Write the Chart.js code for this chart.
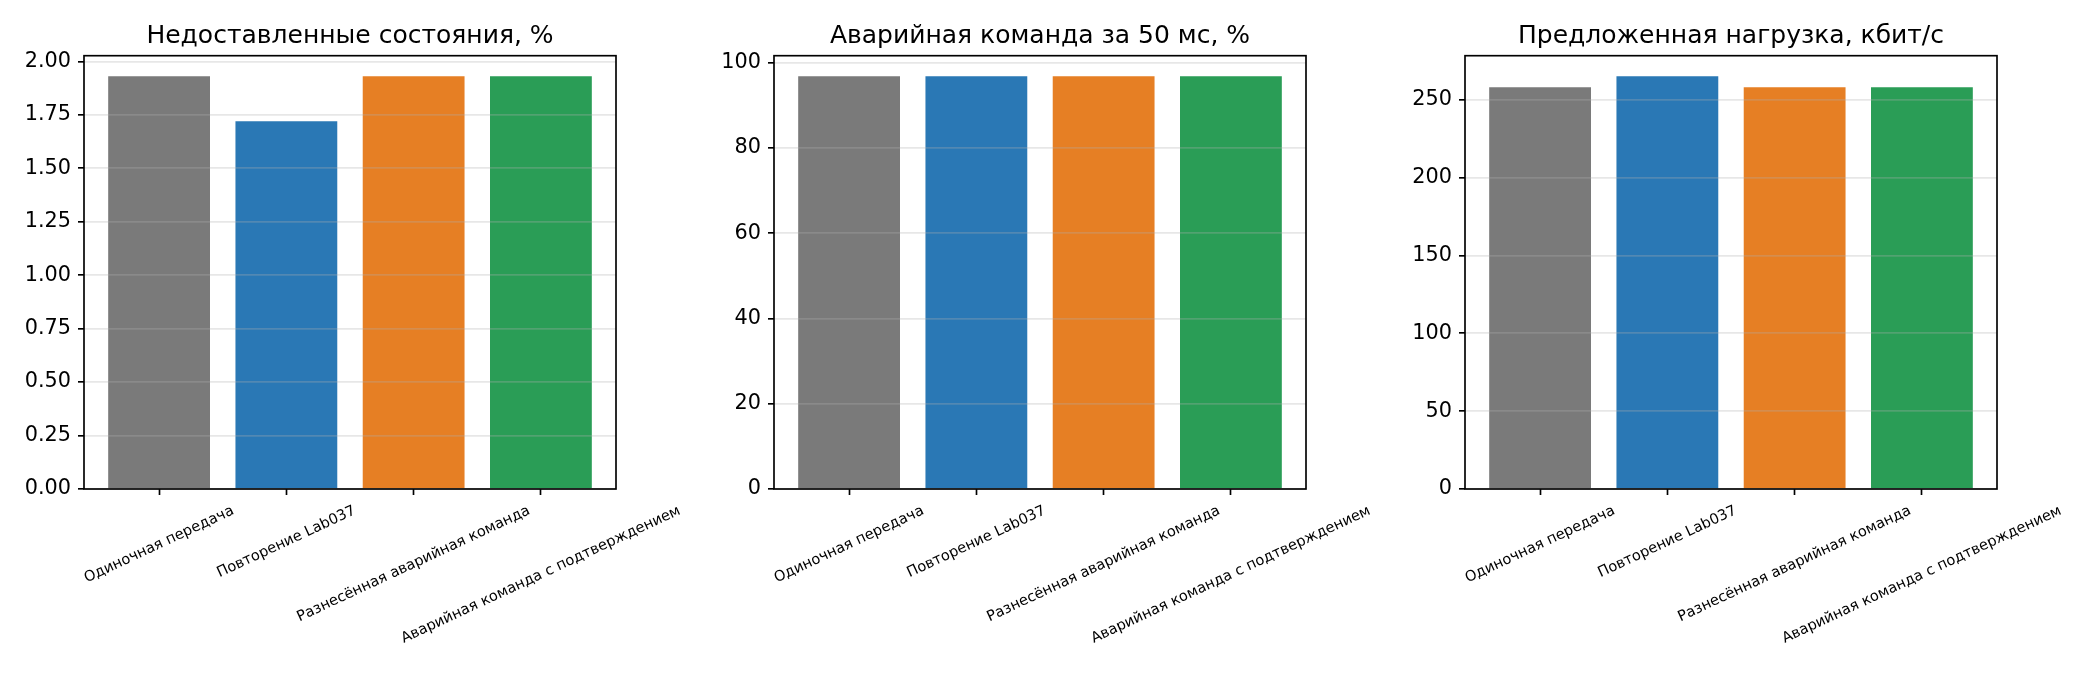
<!DOCTYPE html>
<html>
<head>
<meta charset="utf-8">
<script src="https://cdn.jsdelivr.net/npm/chart.js@4.4.1/dist/chart.umd.min.js"></script>
<style>
html,body{margin:0;padding:0;background:#fff;width:2100px;height:675px;overflow:hidden;}
.box{position:absolute;top:0;height:675px;}
</style>
</head>
<body>
<div class="box" id="b0"><canvas id="c0"></canvas></div>
<div class="box" id="b1"><canvas id="c1"></canvas></div>
<div class="box" id="b2"><canvas id="c2"></canvas></div>
<script>
// ---- data ----
const categories = ["Одиночная передача", "Повторение Lab037", "Разнесённая аварийная команда", "Аварийная команда с подтверждением"];
const barColors = ["#7a7a7a", "#2a78b5", "#e67f24", "#2a9d56"];
const chartTitles = ["Недоставленные состояния, %", "Аварийная команда за 50 мс, %", "Предложенная нагрузка, кбит/с"];

const undeliveredPct = [1.93, 1.72, 1.93, 1.93];
const emergency50msPct = [96.8, 96.8, 96.8, 96.8];
const offeredLoadKbps = [258, 265, 258, 258];

const yTicks1 = [0, 0.25, 0.5, 0.75, 1.0, 1.25, 1.5, 1.75, 2.0];
const yTickLabels1 = ["0.00", "0.25", "0.50", "0.75", "1.00", "1.25", "1.50", "1.75", "2.00"];
const yTicks2 = [0, 20, 40, 60, 80, 100];
const yTickLabels2 = ["0", "20", "40", "60", "80", "100"];
const yTicks3 = [0, 50, 100, 150, 200, 250];
const yTickLabels3 = ["0", "50", "100", "150", "200", "250"];

// ---- layout ----
const axLefts = [84, 774, 1465];
const axWidth = 532;
const yAxisW = 80;
const rightPad = 110;
const axTop = 55.7;
const axBottom = 489;
const xAxisH = 20;

const FONT = '"DejaVu Sans", "Liberation Sans", sans-serif';

const framePlugin = {
  id: 'frame',
  afterDraw(chart, args, opts) {
    const ctx = chart.ctx;
    const a = chart.chartArea;
    const xs = chart.scales.x;
    ctx.save();
    // spines
    ctx.strokeStyle = '#000';
    ctx.lineWidth = 1.67;
    ctx.strokeRect(a.left, a.top, a.right - a.left, a.bottom - a.top);
    // title
    ctx.fillStyle = '#000';
    ctx.font = '25px ' + FONT;
    ctx.textAlign = 'center';
    ctx.textBaseline = 'alphabetic';
    ctx.fillText(opts.title, (a.left + a.right) / 2, a.top - 12.5);
    // rotated x labels (centered under ticks)
    ctx.font = '14.6px ' + FONT;
    const th = 25 * Math.PI / 180;
    const h = 14.6 * 1.17;
    const top = a.bottom + 6 + 7.3;
    categories.forEach((lab, i) => {
      const px = xs.getPixelForValue(i);
      const w = ctx.measureText(lab).width;
      const H = w * Math.sin(th) + h * Math.cos(th);
      ctx.save();
      ctx.translate(px, top + H / 2);
      ctx.rotate(-th);
      ctx.textAlign = 'center';
      ctx.textBaseline = 'middle';
      ctx.fillText(lab, 0, 0);
      ctx.restore();
    });
    ctx.restore();
  }
};

function makeChart(idx, values, yTicks, yLabels) {
  const box = document.getElementById('b' + idx);
  box.style.left = (axLefts[idx] - yAxisW) + 'px';
  box.style.width = (yAxisW + axWidth + rightPad) + 'px';
  const ymax = Math.max(...values) * 1.05;
  new Chart(document.getElementById('c' + idx), {
    type: 'bar',
    data: {
      datasets: [{
        data: categories.map((c, i) => ({ x: i, y: values[i] })),
        backgroundColor: barColors,
        borderWidth: 0,
        barPercentage: 0.8,
        categoryPercentage: 1.0
      }]
    },
    options: {
      responsive: true,
      maintainAspectRatio: false,
      animation: false,
      layout: { padding: { top: axTop, right: rightPad, left: 0, bottom: 675 - axBottom - xAxisH } },
      plugins: {
        legend: { display: false },
        tooltip: { enabled: false },
        title: { display: false },
        frame: { title: chartTitles[idx] }
      },
      scales: {
        x: {
          type: 'linear',
          min: -0.59,
          max: 3.59,
          offset: false,
          afterBuildTicks: s => { s.ticks = categories.map((c, i) => ({ value: i })); },
          afterFit: s => { s.height = xAxisH; },
          ticks: { display: false },
          grid: { offset: false, drawOnChartArea: false, drawTicks: true, tickLength: 6, tickColor: '#000', tickWidth: 1.67 },
          border: { display: false }
        },
        y: {
          type: 'linear',
          min: 0,
          max: ymax,
          afterBuildTicks: s => { s.ticks = yTicks.map(v => ({ value: v })); },
          afterFit: s => { s.width = yAxisW; },
          ticks: {
            autoSkip: false,
            callback: (v, i) => yLabels[i],
            font: { family: FONT, size: 20.8 },
            color: '#000',
            padding: 7
          },
          grid: { color: 'rgba(176,176,176,0.3)', lineWidth: 1.67, z: 1, drawTicks: true, tickLength: 6, tickColor: '#000', tickWidth: 1.67 },
          border: { display: false }
        }
      }
    },
    plugins: [framePlugin]
  });
}

makeChart(0, undeliveredPct, yTicks1, yTickLabels1);
makeChart(1, emergency50msPct, yTicks2, yTickLabels2);
makeChart(2, offeredLoadKbps, yTicks3, yTickLabels3);
</script>
</body>
</html>
